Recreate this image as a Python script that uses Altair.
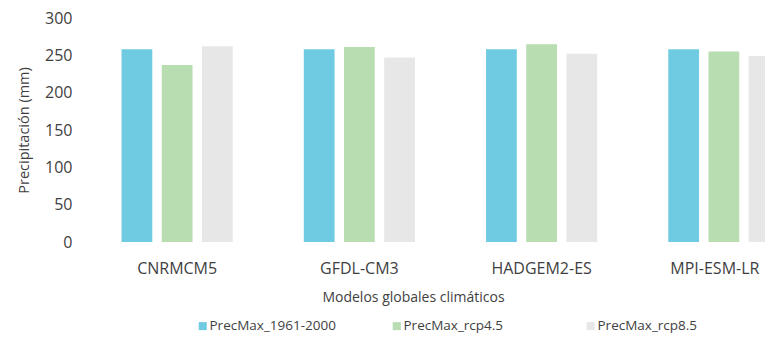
import altair as alt
import pandas as pd

models = ["CNRMCM5", "GFDL-CM3", "HADGEM2-ES", "MPI-ESM-LR"]
series = ["PrecMax_1961-2000", "PrecMax_rcp4.5", "PrecMax_rcp8.5"]
prec_1961_2000 = [258, 258, 258, 258]
prec_rcp45 = [237, 261, 265, 255]
prec_rcp85 = [262, 247, 252, 249]
colors = ["#6FCBE2", "#B7DDB0", "#E7E7E7"]

rows = []
for s, vals in zip(series, [prec_1961_2000, prec_rcp45, prec_rcp85]):
    for m, v in zip(models, vals):
        rows.append({"Modelo": m, "Serie": s, "Valor": v})
df = pd.DataFrame(rows)

FONT = "Open Sans"
TXT = "#3F3F3F"

chart = alt.Chart(df).mark_bar(clip=True).encode(
    x=alt.X(
        "Modelo:N",
        sort=models,
        scale=alt.Scale(range=[0, 729], paddingInner=0.39, paddingOuter=0.195),
        axis=alt.Axis(
            title="Modelos globales climáticos",
            labelAngle=0,
            ticks=False,
            tickSize=0,
            domain=False,
            labelPadding=18,
            labelOffset={"condition": {"test": "datum.value == 'MPI-ESM-LR'", "value": -9}, "value": 0},
            titlePadding=14,
            titleX=327,
            labelFontSize=16,
            titleFontSize=14,
        ),
    ),
    xOffset=alt.XOffset(
        "Serie:N",
        sort=series,
        scale=alt.Scale(paddingInner=0.235, paddingOuter=0),
    ),
    y=alt.Y(
        "Valor:Q",
        scale=alt.Scale(domain=[0, 300], nice=False),
        axis=alt.Axis(
            title="Precipitación (mm)",
            values=[0, 50, 100, 150, 200, 250, 300],
            grid=False,
            ticks=False,
            tickSize=0,
            domain=False,
            labelPadding=14,
            titlePadding=13,
            labelFontSize=16,
            titleFontSize=14.5,
        ),
    ),
    color=alt.Color(
        "Serie:N",
        sort=series,
        scale=alt.Scale(domain=series, range=colors),
        legend=alt.Legend(
            title=None,
            orient="none",
            direction="horizontal",
            columns=3,
            gridAlign="all",
            legendX=110,
            legendY=301,
            symbolType="square",
            symbolSize=64,
            symbolStrokeWidth=0,
            labelFontSize=13.5,
            columnPadding=54,
            labelOffset=0,
        ),
    ),
).properties(
    width=679,
    height=224,
    autosize=alt.AutoSizeParams(type="none"),
    padding={"left": 78, "top": 10, "right": 0, "bottom": 93},
).configure_view(
    stroke=None
).configure_axis(
    labelFont=FONT,
    titleFont=FONT,
    labelColor=TXT,
    titleColor=TXT,
    titleFontWeight="normal",
).configure_legend(
    labelFont=FONT,
    labelColor=TXT,
)

chart.save("out.html", embed_options={"renderer": "svg", "actions": False})
